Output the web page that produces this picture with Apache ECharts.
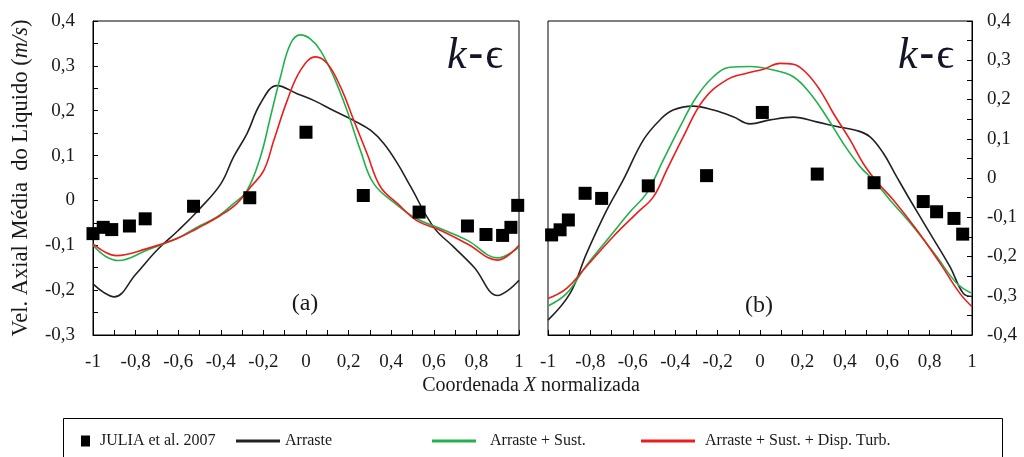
<!DOCTYPE html>
<html><head><meta charset="utf-8">
<script src="https://cdn.jsdelivr.net/npm/echarts@6/dist/echarts.min.js"></script>
<style>html,body{margin:0;padding:0;background:#fff}#c{width:1024px;height:457px}</style>
</head><body><div id="c"></div>
<script>
// Panel (a)
const expA = [[-1.0,-0.074],[-0.952,-0.06],[-0.912,-0.065],[-0.829,-0.057],[-0.755,-0.041],[-0.528,-0.013],[-0.264,0.006],[0.0,0.152],[0.269,0.011],[0.531,-0.026],[0.758,-0.057],[0.845,-0.076],[0.923,-0.078],[0.962,-0.06],[0.994,-0.011]];
const dragA = [[-1,-0.186],[-0.95,-0.205],[-0.9,-0.215],[-0.8,-0.165],[-0.7,-0.111],[-0.6,-0.067],[-0.5,-0.019],[-0.4,0.037],[-0.34,0.097],[-0.277,0.149],[-0.214,0.216],[-0.136,0.256],[-0.042,0.238],[0.036,0.223],[0.131,0.2],[0.225,0.178],[0.304,0.156],[0.367,0.126],[0.43,0.082],[0.492,0.03],[0.6,-0.06],[0.694,-0.104],[0.789,-0.149],[0.9,-0.212],[0.95,-0.2],[1,-0.178]];
const liftA = [[-1,-0.1],[-0.94,-0.125],[-0.88,-0.134],[-0.748,-0.111],[-0.606,-0.085],[-0.513,-0.06],[-0.418,-0.037],[-0.34,-0.007],[-0.277,0.022],[-0.214,0.097],[-0.167,0.186],[-0.12,0.275],[-0.073,0.349],[-0.026,0.369],[0.02,0.36],[0.068,0.334],[0.131,0.275],[0.193,0.2],[0.256,0.111],[0.319,0.037],[0.43,-0.011],[0.52,-0.041],[0.633,-0.063],[0.758,-0.089],[0.9,-0.128],[1,-0.104]];
const dispA = [[-1,-0.097],[-0.94,-0.116],[-0.89,-0.123],[-0.75,-0.108],[-0.606,-0.085],[-0.513,-0.063],[-0.4,-0.033],[-0.325,-0.007],[-0.26,0.03],[-0.198,0.067],[-0.151,0.134],[-0.088,0.223],[-0.026,0.29],[0.045,0.32],[0.1,0.305],[0.162,0.253],[0.225,0.178],[0.287,0.104],[0.35,0.03],[0.43,-0.007],[0.52,-0.045],[0.633,-0.067],[0.758,-0.097],[0.9,-0.133],[1,-0.1]];
// Panel (b)
const expB = [[-0.983,-0.145],[-0.943,-0.132],[-0.904,-0.107],[-0.825,-0.039],[-0.747,-0.052],[-0.527,-0.02],[-0.252,0.006],[0.011,0.167],[0.27,0.01],[0.538,-0.012],[0.77,-0.06],[0.833,-0.086],[0.915,-0.103],[0.956,-0.143]];
const dragB = [[-1,-0.362],[-0.896,-0.294],[-0.818,-0.192],[-0.723,-0.082],[-0.645,-0.005],[-0.55,0.097],[-0.472,0.148],[-0.41,0.173],[-0.315,0.183],[-0.22,0.173],[-0.126,0.156],[-0.047,0.138],[0.047,0.148],[0.157,0.155],[0.267,0.143],[0.362,0.131],[0.456,0.121],[0.519,0.105],[0.582,0.063],[0.645,0.003],[0.708,-0.056],[0.802,-0.141],[0.896,-0.226],[0.959,-0.294],[1,-0.302]];
const liftB = [[-1,-0.326],[-0.912,-0.294],[-0.818,-0.222],[-0.708,-0.149],[-0.613,-0.086],[-0.535,-0.039],[-0.456,0.046],[-0.377,0.131],[-0.299,0.207],[-0.22,0.258],[-0.142,0.282],[-0.047,0.284],[0.063,0.275],[0.157,0.258],[0.236,0.216],[0.314,0.156],[0.393,0.088],[0.472,0.029],[0.535,-0.005],[0.613,-0.056],[0.723,-0.124],[0.833,-0.2],[0.928,-0.268],[1,-0.294]];
const dispB = [[-1,-0.307],[-0.912,-0.281],[-0.818,-0.225],[-0.692,-0.149],[-0.582,-0.09],[-0.503,-0.048],[-0.44,0.02],[-0.362,0.105],[-0.267,0.199],[-0.157,0.25],[-0.063,0.267],[0.016,0.277],[0.094,0.292],[0.157,0.29],[0.22,0.267],[0.283,0.224],[0.346,0.165],[0.425,0.097],[0.487,0.037],[0.55,-0.009],[0.629,-0.056],[0.739,-0.132],[0.849,-0.217],[0.943,-0.294],[1,-0.328]];

const names = ['JULIA et al. 2007','Arraste','Arraste + Sust.','Arraste + Sust. + Disp. Turb.'];
const colors = ['#000000','#222222','#22b14c','#ee1c1c'];

const FONT = '"Liberation Serif", "Times New Roman", serif';
const TXT = '#1a1a1a';
const fmt = v => { const r = Math.round(v*10)/10; return r === 0 ? '0' : String(r).replace('.', ','); };

function xAx(gi){
  return {type:'value', gridIndex:gi, min:-1, max:1, interval:0.2,
    axisLine:{show:true, onZero:false, lineStyle:{color:'#000'}},
    axisTick:{show:true, inside:true, length:5, lineStyle:{color:'#000'}},
    minorTick:{show:true, splitNumber:2, length:5, lineStyle:{color:'#000'}},
    splitLine:{show:false},
    axisLabel:{formatter:fmt, fontFamily:FONT, fontSize:19, color:TXT, margin:18}};
}
function yAx(gi, min, max, pos, extra){
  return Object.assign({type:'value', gridIndex:gi, min:min, max:max, interval:0.1, position:pos,
    axisLine:{show:true, onZero:false, lineStyle:{color:'#000'}},
    axisTick:{show:true, inside:true, length:5, lineStyle:{color:'#000'}},
    minorTick:{show:true, splitNumber:2, length:5, lineStyle:{color:'#000'}},
    splitLine:{show:false},
    axisLabel:{formatter:fmt, fontFamily:FONT, fontSize:19, color:TXT, margin:pos==='left'?18:15}}, extra||{});
}
function lineS(name, data, color, xi){
  return {name:name, type:'line', xAxisIndex:xi, yAxisIndex:xi, data:data, smooth:0.4,
    symbol:'none', lineStyle:{color:color, width:1.6}, itemStyle:{color:color}, z:2};
}
function scat(data, xi){
  return {name:names[0], type:'scatter', xAxisIndex:xi, yAxisIndex:xi, data:data,
    symbol:'rect', symbolSize:13, itemStyle:{color:'#000', opacity:1}, z:5};
}

const legTxt = {fontFamily:FONT, fontSize:16, color:TXT};
const KE = {fontSize:44, fontFamily:FONT, fill:'#15152a'};
const chart = echarts.init(document.getElementById('c'), null, {renderer:'canvas'});
chart.setOption({
  animation:false,
  grid:[
    {left:93, top:21, width:426, height:314, show:true, borderColor:'#000', borderWidth:1},
    {left:548, top:21, width:424, height:314, show:true, borderColor:'#000', borderWidth:1}
  ],
  xAxis:[xAx(0), xAx(1)],
  yAxis:[
    yAx(0,-0.3,0.4,'left',{name:'Vel. Axial Média  do Liquido ({i|m/s})', nameLocation:'middle', nameGap:60, nameRotate:90,
      nameTextStyle:{fontFamily:FONT, fontSize:22.5, color:TXT, rich:{i:{fontFamily:FONT, fontSize:22.5, fontStyle:'italic', color:TXT}}}}),
    yAx(1,-0.4,0.4,'right')
  ],
  legend:[
    {data:[{name:names[0], icon:'rect'}], left:76, top:428, itemWidth:9, itemHeight:11, textStyle:Object.assign({padding:[0,0,0,5]}, legTxt)},
    {data:[{name:names[1], icon:'rect'}], left:231, top:428, itemWidth:44, itemHeight:3, textStyle:Object.assign({padding:[0,0,0,0]}, legTxt)},
    {data:[{name:names[2], icon:'rect'}], left:427, top:428, itemWidth:44, itemHeight:3, textStyle:Object.assign({padding:[0,0,0,9]}, legTxt)},
    {data:[{name:names[3], icon:'rect'}], left:636, top:428, itemWidth:54, itemHeight:3, textStyle:Object.assign({padding:[0,0,0,5]}, legTxt)}
  ],
  graphic:[
    {type:'rect', shape:{x:63.5, y:418.5, width:939, height:60}, style:{fill:'none', stroke:'#000', lineWidth:1}, z:0},
    {type:'text', x:531, y:386, style:{text:'Coordenada {i|X} normalizada', textAlign:'center', textVerticalAlign:'middle',
      font:'20px '+FONT, fill:TXT, rich:{i:{fontStyle:'italic', fontSize:20, fontFamily:FONT, fill:TXT}}}},
    {type:'text', x:475, y:56, style:{text:'{k|k}{d|-}{e|ϵ}', textAlign:'center', textVerticalAlign:'middle',
      font:'44px '+FONT, fill:'#15152a', rich:{k:Object.assign({fontStyle:'italic'}, KE), d:Object.assign({fontWeight:'bold', padding:[0,2,0,2]}, KE), e:KE}}},
    {type:'text', x:926, y:56, style:{text:'{k|k}{d|-}{e|ϵ}', textAlign:'center', textVerticalAlign:'middle',
      font:'44px '+FONT, fill:'#15152a', rich:{k:Object.assign({fontStyle:'italic'}, KE), d:Object.assign({fontWeight:'bold', padding:[0,2,0,2]}, KE), e:KE}}},
    {type:'text', x:305, y:304, style:{text:'(a)', textAlign:'center', textVerticalAlign:'middle', font:'24px '+FONT, fill:TXT}},
    {type:'text', x:759, y:306, style:{text:'(b)', textAlign:'center', textVerticalAlign:'middle', font:'24px '+FONT, fill:TXT}}
  ],
  series:[
    scat(expA,0), lineS(names[1],dragA,colors[1],0), lineS(names[2],liftA,colors[2],0), lineS(names[3],dispA,colors[3],0),
    scat(expB,1), lineS(names[1],dragB,colors[1],1), lineS(names[2],liftB,colors[2],1), lineS(names[3],dispB,colors[3],1)
  ]
});
</script></body></html>
